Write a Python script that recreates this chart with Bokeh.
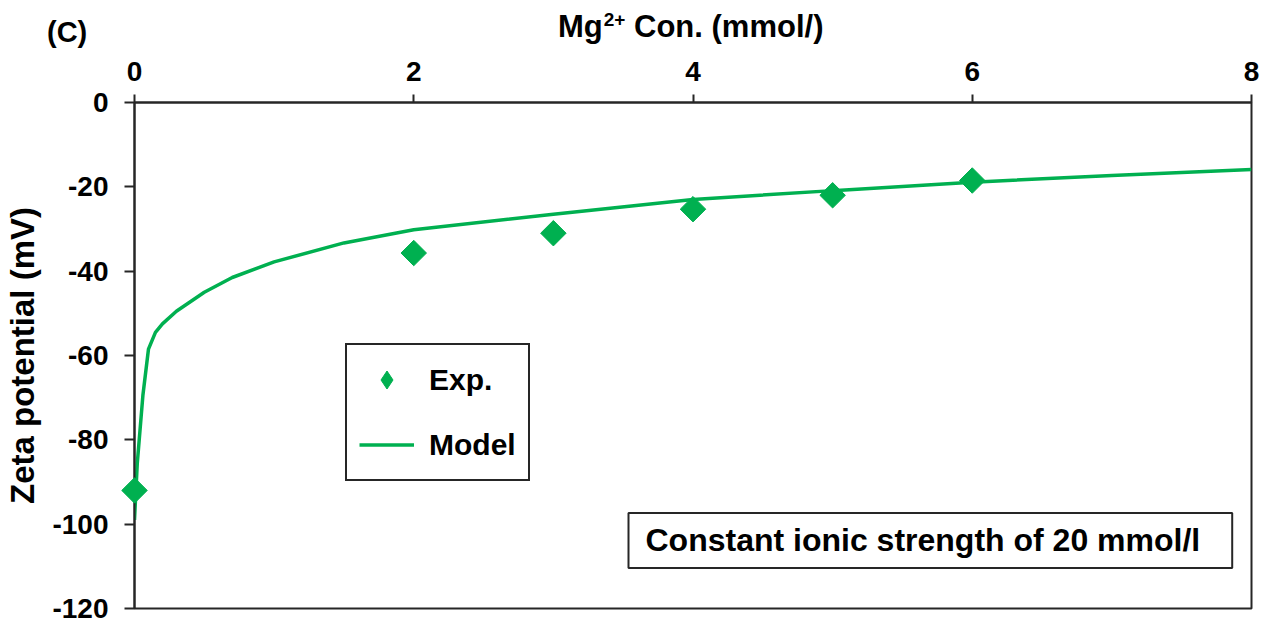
from bokeh.plotting import figure
from bokeh.layouts import column
from bokeh.models import Label, Legend, LegendItem, FixedTicker, Range1d, Div
from bokeh.embed import file_html
from bokeh.resources import INLINE

# Mg2+ concentration (mmol/l) and measured zeta potential (mV)
exp_x = [0, 2, 3, 4, 5, 6]
exp_y = [-92.0, -35.7, -31.0, -25.3, -22.0, -18.5]

# Model prediction
model_x = [0, 0.02, 0.06, 0.1, 0.15, 0.2, 0.3, 0.5, 0.7, 1.0, 1.5, 2, 3, 4, 5, 6, 7, 8]
model_y = [-99.0, -85.5, -69.5, -58.5, -54.5, -52.5, -49.5, -45.0, -41.5, -37.8,
           -33.3, -30.2, -26.5, -23.0, -20.9, -18.9, -17.3, -15.9]

x_ticks = [0, 2, 4, 6, 8]
y_ticks = [0, -20, -40, -60, -80, -100, -120]

GREEN = "#00B050"
INK = "#262626"
FONT = "Liberation Sans"

HEADER_H = 48
W, H = 1268, 624

# ---------- header strip: panel tag and x-axis title ----------
header_html = f"""
<div style="position:relative;width:{W}px;height:{HEADER_H}px;overflow:hidden;
            font-family:'{FONT}';font-weight:bold;color:black;line-height:1;">
  <span style="position:absolute;left:47px;top:18px;font-size:29px;">(C)</span>
  <span style="position:absolute;left:558px;top:11px;font-size:31px;white-space:nowrap;">Mg<span
        style="font-size:19px;position:relative;top:-11px;margin-left:1px;">2+</span> Con. (mmol/)</span>
</div>
"""
header = Div(text=header_html, width=W, height=HEADER_H, margin=0)

# ---------- main chart ----------
p = figure(width=W, height=H - HEADER_H, output_backend="svg", toolbar_location=None,
           x_axis_location="above", x_range=Range1d(0, 8), y_range=Range1d(-120, 0),
           min_border_left=134, min_border_right=17, min_border_top=54,
           min_border_bottom=16)
p.grid.visible = False
p.outline_line_color = INK
p.outline_line_width = 2
p.background_fill_color = "white"
p.border_fill_color = "white"

for ax in (p.xaxis[0], p.yaxis[0]):
    ax.axis_line_color = INK
    ax.axis_line_width = 2
    ax.major_tick_line_color = INK
    ax.major_tick_line_width = 2
    ax.major_tick_in = 0
    ax.minor_tick_line_color = None
    ax.major_label_text_font = FONT
    ax.major_label_text_font_style = "bold"
    ax.major_label_text_font_size = "28px"
    ax.major_label_text_color = "black"

p.xaxis.ticker = FixedTicker(ticks=x_ticks)
p.xaxis.major_tick_out = 8
p.xaxis.major_label_standoff = 14

p.yaxis.ticker = FixedTicker(ticks=y_ticks)
p.yaxis.major_label_overrides = {t: str(t) for t in y_ticks}
p.yaxis.major_tick_out = 10
p.yaxis.major_label_standoff = 16
p.yaxis.axis_label = "Zeta potential (mV)"
p.yaxis.axis_label_text_font = FONT
p.yaxis.axis_label_text_font_style = "bold"
p.yaxis.axis_label_text_font_size = "33px"
p.yaxis.axis_label_text_color = "black"
p.yaxis.axis_label_standoff = 8

model = p.line(model_x, model_y, line_color=GREEN, line_width=3.5)
# diamond key for the legend, drawn beneath the rotated-square markers
exp_key = p.scatter(exp_x, exp_y, marker="diamond", size=16,
                    fill_color=GREEN, line_color=GREEN)
# measured points on the overlay level so the one sitting on the axis stays whole
p.scatter(exp_x, exp_y, marker="square", angle=0.785398, size=18,
          fill_color=GREEN, line_color=GREEN, level="overlay")

legend = Legend(items=[LegendItem(label="Exp.", renderers=[exp_key]),
                       LegendItem(label="Model", renderers=[model])],
                location=(211, 127), orientation="vertical",
                glyph_width=55, glyph_height=45, label_height=45,
                label_standoff=15, spacing=20, padding=12, margin=0,
                border_line_color=INK, border_line_width=2, border_line_alpha=1,
                background_fill_color="white", background_fill_alpha=1,
                label_text_font=FONT, label_text_font_style="bold",
                label_text_font_size="30px", label_text_color="black")
p.add_layout(legend, "center")

# condition note
p.add_layout(Label(x=494, y=68, x_units="screen", y_units="screen",
                   text="Constant ionic strength of 20 mmol/l",
                   text_font=FONT, text_font_style="bold", text_font_size="32px",
                   text_color="black", text_align="left", text_baseline="alphabetic",
                   background_fill_color="white", border_line_color=INK,
                   border_line_width=2,
                   padding=dict(left=17, right=32, top=9, bottom=10)))

open("out.html", "w").write(file_html(column(header, p, spacing=0), INLINE))
